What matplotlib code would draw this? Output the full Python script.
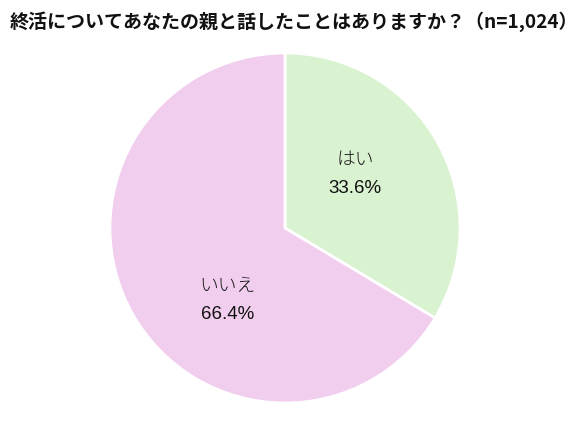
import matplotlib
matplotlib.use("Agg")
import matplotlib.pyplot as plt

plt.rcParams['font.family'] = ['Noto Sans CJK JP', 'DejaVu Sans']

title = "終活についてあなたの親と話したことはありますか？（n=1,024）"
labels = ["はい", "いいえ"]
values = [33.6, 66.4]
colors = ["#d9f2d0", "#f1ceee"]
label_pos = [(0.40, 0.39), (-0.33, -0.33)]

W, H = 586, 421
fig = plt.figure(figsize=(W / 100, H / 100), dpi=100)
cx, cy, r = 285, 228, 175
ax = fig.add_axes([(cx - r) / W, (H - cy - r) / H, 2 * r / W, 2 * r / H])
ax.pie(values, colors=colors, startangle=90, counterclock=False,
       wedgeprops=dict(edgecolor="white", linewidth=2), radius=1)
ax.set_xlim(-1.0, 1.0)
ax.set_ylim(-1.0, 1.0)
ax.set_aspect('auto')
ax.axis('off')

for lab, v, (x, y) in zip(labels, values, label_pos):
    ax.text(x, y, lab, ha='center', va='center', fontsize=13.5,
            color='#1a1a1a', family=['Noto Sans CJK JP', 'DejaVu Sans'], fontweight='light')
    ax.text(x, y - 0.165, f"{v:.1f}%", ha='center', va='center', fontsize=13.5,
            color='#111111', family='Liberation Sans')

fig.text(10 / W, 1 - 22 / H, title, ha='left', va='center', fontsize=13.7,
         fontweight='bold', color='#111111')

fig.savefig("out.png", dpi=100, facecolor='white')
